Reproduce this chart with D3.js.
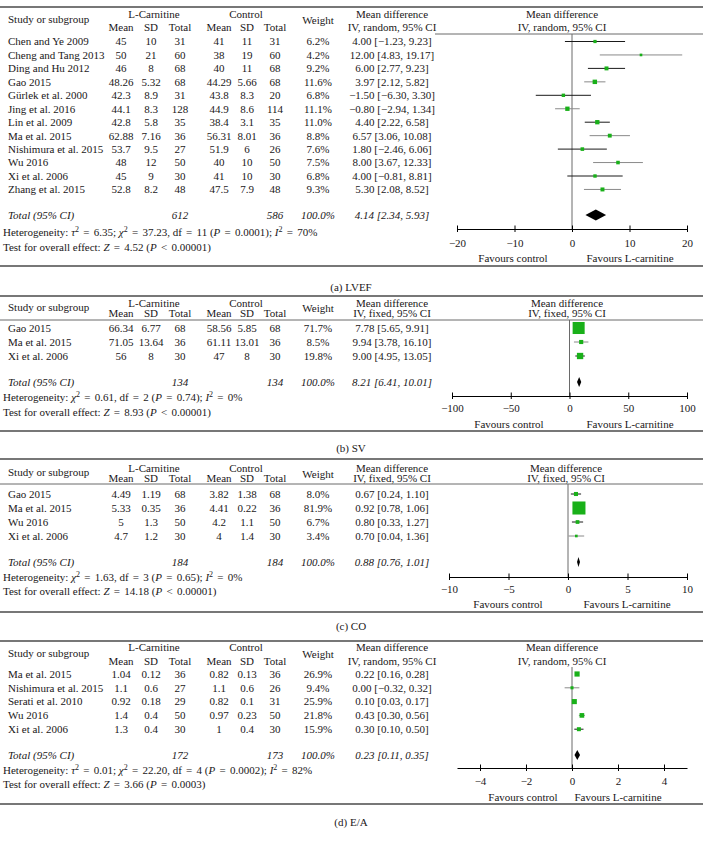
<!DOCTYPE html>
<html><head><meta charset="utf-8">
<script src="https://cdn.jsdelivr.net/npm/d3@7"></script>
<style>
body{margin:0;background:#fff}
svg{display:block}
text{font-family:"Liberation Serif","Times New Roman",serif;font-size:11px;fill:#1a1718;white-space:pre}
</style>
</head><body>
<svg id="c" width="703" height="842"></svg>
<script>
// ---- DATA ----
// row: [study, L-carnitine mean, SD, total, control mean, SD, total, weight %, MD, lower, upper]
const lvefRows = [
  ["Chen and Ye 2009", 45, 10, 31, 41, 11, 31, 6.2, 4.00, -1.23, 9.23],
  ["Cheng and Tang 2013", 50, 21, 60, 38, 19, 60, 4.2, 12.00, 4.83, 19.17],
  ["Ding and Hu 2012", 46, 8, 68, 40, 11, 68, 9.2, 6.00, 2.77, 9.23],
  ["Gao 2015", 48.26, 5.32, 68, 44.29, 5.66, 68, 11.6, 3.97, 2.12, 5.82],
  ["Gürlek et al. 2000", 42.3, 8.9, 31, 43.8, 8.3, 20, 6.8, -1.50, -6.30, 3.30],
  ["Jing et al. 2016", 44.1, 8.3, 128, 44.9, 8.6, 114, 11.1, -0.80, -2.94, 1.34],
  ["Lin et al. 2009", 42.8, 5.8, 35, 38.4, 3.1, 35, 11.0, 4.40, 2.22, 6.58],
  ["Ma et al. 2015", 62.88, 7.16, 36, 56.31, 8.01, 36, 8.8, 6.57, 3.06, 10.08],
  ["Nishimura et al. 2015", 53.7, 9.5, 27, 51.9, 6, 26, 7.6, 1.80, -2.46, 6.06],
  ["Wu 2016", 48, 12, 50, 40, 10, 50, 7.5, 8.00, 3.67, 12.33],
  ["Xi et al. 2006", 45, 9, 30, 41, 10, 30, 6.8, 4.00, -0.81, 8.81],
  ["Zhang et al. 2015", 52.8, 8.2, 48, 47.5, 7.9, 48, 9.3, 5.30, 2.08, 8.52]
];
const svRows = [
  ["Gao 2015", 66.34, 6.77, 68, 58.56, 5.85, 68, 71.7, 7.78, 5.65, 9.91],
  ["Ma et al. 2015", 71.05, 13.64, 36, 61.11, 13.01, 36, 8.5, 9.94, 3.78, 16.10],
  ["Xi et al. 2006", 56, 8, 30, 47, 8, 30, 19.8, 9.00, 4.95, 13.05]
];
const coRows = [
  ["Gao 2015", 4.49, 1.19, 68, 3.82, 1.38, 68, 8.0, 0.67, 0.24, 1.10],
  ["Ma et al. 2015", 5.33, 0.35, 36, 4.41, 0.22, 36, 81.9, 0.92, 0.78, 1.06],
  ["Wu 2016", 5, 1.3, 50, 4.2, 1.1, 50, 6.7, 0.80, 0.33, 1.27],
  ["Xi et al. 2006", 4.7, 1.2, 30, 4, 1.4, 30, 3.4, 0.70, 0.04, 1.36]
];
const eaRows = [
  ["Ma et al. 2015", 1.04, 0.12, 36, 0.82, 0.13, 36, 26.9, 0.22, 0.16, 0.28],
  ["Nishimura et al. 2015", 1.1, 0.6, 27, 1.1, 0.6, 26, 9.4, 0.00, -0.32, 0.32],
  ["Serati et al. 2010", 0.92, 0.18, 29, 0.82, 0.1, 31, 25.9, 0.10, 0.03, 0.17],
  ["Wu 2016", 1.4, 0.4, 50, 0.97, 0.23, 50, 21.8, 0.43, 0.30, 0.56],
  ["Xi et al. 2006", 1.3, 0.4, 30, 1, 0.4, 30, 15.9, 0.30, 0.10, 0.50]
];
// totals: [L-carnitine N, control N, weight, MD, lower, upper]
const lvefTotal = [612, 586, 100.0, 4.14, 2.34, 5.93];
const svTotal = [134, 134, 100.0, 8.21, 6.41, 10.01];
const coTotal = [184, 184, 100.0, 0.88, 0.76, 1.01];
const eaTotal = [172, 173, 100.0, 0.23, 0.11, 0.35];

const lvefDomain = [-20, 20], lvefTicks = [-20, -10, 0, 10, 20];
const svDomain = [-100, 100], svTicks = [-100, -50, 0, 50, 100];
const coDomain = [-10, 10], coTicks = [-10, -5, 0, 5, 10];
const eaDomain = [-5, 5], eaTicks = [-4, -2, 0, 2, 4];

const methods = ["IV, random, 95% CI", "IV, fixed, 95% CI", "IV, fixed, 95% CI", "IV, random, 95% CI"];
const captions = ["(a) LVEF", "(b) SV", "(c) CO", "(d) E/A"];
const hetTexts = [
  "Heterogeneity: *τ*^2 = 6.35; *χ*^2 = 37.23, df = 11 (*P* = 0.0001); *I*^2 = 70%",
  "Heterogeneity: *χ*^2 = 0.61, df = 2 (*P* = 0.74); *I*^2 = 0%",
  "Heterogeneity: *χ*^2 = 1.63, df = 3 (*P* = 0.65); *I*^2 = 0%",
  "Heterogeneity: *τ*^2 = 0.01; *χ*^2 = 22.20, df = 4 (*P* = 0.0002); *I*^2 = 82%"
];
const testTexts = [
  "Test for overall effect: *Z* = 4.52 (*P* < 0.00001)",
  "Test for overall effect: *Z* = 8.93 (*P* < 0.00001)",
  "Test for overall effect: *Z* = 14.18 (*P* < 0.00001)",
  "Test for overall effect: *Z* = 3.66 (*P* = 0.0003)"
];
const favourLabels = ["Favours control", "Favours L-carnitine"];

// ---- LAYOUT ----
const layouts = [
  {top:7, h1:14, hs:19, hw:20, h2:27.5, hline:34, hlineX:435, zeroTop:34, row0:41.5, step:13.45, tot:215, het:232, test:247, axis:229, tl:243, fav:258, bot:266, cap:287, range:[457,687], hdrX:562, favX:[513,630], sq:13, dh:5.5},
  {top:296, h1:303, hs:307, hw:308, h2:313.5, hline:320, hlineX:0, zeroTop:320, row0:328, step:14, tot:382, het:397, test:412, axis:396, tl:408, fav:424, bot:431, cap:448, range:[452,687], hdrX:567, favX:[509,630], sq:14.2, dh:5},
  {top:459, h1:468, hs:472, hw:474, h2:478.5, hline:484, hlineX:0, zeroTop:484, row0:494, step:14, tot:562, het:577, test:591, axis:577, tl:589, fav:604, bot:612, cap:626, range:[449,687], hdrX:566, favX:[508,627], sq:14.4, dh:5},
  {top:641, h1:647, hs:653, hw:654, h2:661, hline:null, hlineX:0, zeroTop:667, row0:674, step:13.8, tot:755, het:770, test:784, axis:768, tl:781, fav:797, bot:804, cap:822, range:[457,687], hdrX:562, favX:[523,618], sq:10, dh:5}
];
const panels = [
  {rows: lvefRows, total: lvefTotal, domain: lvefDomain, ticks: lvefTicks},
  {rows: svRows, total: svTotal, domain: svDomain, ticks: svTicks},
  {rows: coRows, total: coTotal, domain: coDomain, ticks: coTicks},
  {rows: eaRows, total: eaTotal, domain: eaDomain, ticks: eaTicks}
];

const colX = {name:8, lm:121, lsd:151, ln:180, cm:219, csd:247, cn:275, w:318, md:392, lcHdr:154, ctHdr:246};
const svg = d3.select("#c");
const green = "#19b019";

const fmt2 = v => (v < 0 ? "−" : "") + Math.abs(v).toFixed(2);
const ciText = (m, lo, hi) => `${fmt2(m)} [${fmt2(lo)}, ${fmt2(hi)}]`;

function txt(g, x, y, s, anchor, italic) {
  const t = g.append("text").attr("x", x).attr("y", y).attr("dy", "0.35em")
    .attr("text-anchor", anchor || "start").text(s);
  if (italic) t.style("font-style", "italic");
  return t;
}
// rich text: *x* italic, ^2 superscript, extra math spacing around = and <
function rich(g, x, y, s) {
  const t = g.append("text").attr("x", x).attr("y", y).attr("dy", "0.35em");
  const parts = s.split(/(\*[^*]+\*|\^2| = | < )/).filter(p => p.length);
  let dyNext = 0, dxNext = 0;
  parts.forEach(p => {
    const ts = t.append("tspan");
    if (p === "^2") {
      ts.attr("dy", -4 + dyNext).style("font-size", "8px").text("2");
      dyNext = 4;
    } else {
      if (dyNext) { ts.attr("dy", dyNext); dyNext = 0; }
      if (p === " = " || p === " < ") {
        ts.attr("dx", 1.5 + dxNext).text(p);
        dxNext = 1.5;
        return;
      }
      if (dxNext) ts.attr("dx", dxNext);
      if (p[0] === "*") ts.style("font-style", "italic").text(p.slice(1, -1));
      else ts.text(p);
    }
    dxNext = 0;
  });
}
function hline(g, x1, x2, y, color, w) {
  g.append("line").attr("x1", x1).attr("x2", x2).attr("y1", y).attr("y2", y)
    .attr("stroke", color).attr("stroke-width", w);
}

panels.forEach((P, pi) => {
  const L = layouts[pi];
  const g = svg.append("g");
  const x = d3.scaleLinear().domain(P.domain).range(L.range);
  const size = d3.scaleSqrt().domain([0, 100]).range([0, L.sq]);

  // rules
  hline(g, 0, 703, L.top, "#4a4a4a", 1.3);
  if (L.hline !== null) hline(g, L.hlineX, 703, L.hline, "#6a6a6a", 1);
  hline(g, 0, 703, L.bot, "#4a4a4a", 1.3);

  // headers
  txt(g, colX.name, L.hs, "Study or subgroup");
  txt(g, colX.lcHdr, L.h1, "L-Carnitine", "middle");
  txt(g, colX.ctHdr, L.h1, "Control", "middle");
  [["Mean", colX.lm], ["SD", colX.lsd], ["Total", colX.ln], ["Mean", colX.cm], ["SD", colX.csd], ["Total", colX.cn]]
    .forEach(([s, cx]) => txt(g, cx, L.h2, s, "middle"));
  txt(g, colX.w, L.hw, "Weight", "middle");
  txt(g, colX.md, L.h1, "Mean difference", "middle");
  txt(g, colX.md, L.h2, methods[pi], "middle");
  txt(g, L.hdrX, L.h1, "Mean difference", "middle");
  txt(g, L.hdrX, L.h2, methods[pi], "middle");

  // zero line
  g.append("line").attr("x1", x(0)).attr("x2", x(0)).attr("y1", L.zeroTop).attr("y2", L.axis)
    .attr("stroke", "#6a6a6a").attr("stroke-width", 1);

  // study rows
  P.rows.forEach((r, i) => {
    const y = L.row0 + i * L.step;
    txt(g, colX.name, y, r[0]);
    txt(g, colX.lm, y, String(r[1]), "middle");
    txt(g, colX.lsd, y, String(r[2]), "middle");
    txt(g, colX.ln, y, String(r[3]), "middle");
    txt(g, colX.cm, y, String(r[4]), "middle");
    txt(g, colX.csd, y, String(r[5]), "middle");
    txt(g, colX.cn, y, String(r[6]), "middle");
    txt(g, colX.w, y, r[7].toFixed(1) + "%", "middle");
    txt(g, colX.md, y, ciText(r[8], r[9], r[10]), "middle");
    g.append("line").attr("x1", x(r[9])).attr("x2", x(r[10])).attr("y1", y).attr("y2", y)
      .attr("stroke", i % 2 === 0 ? "#1a1a1a" : "#8a8a8a").attr("stroke-width", 1);
    const s = size(r[7]);
    g.append("rect").attr("x", x(r[8]) - s / 2).attr("y", y - s / 2)
      .attr("width", s).attr("height", s).attr("fill", green);
  });

  // total row
  const T = P.total;
  txt(g, colX.name, L.tot, "Total (95% CI)", "start", true);
  txt(g, colX.ln, L.tot, String(T[0]), "middle", true);
  txt(g, colX.cn, L.tot, String(T[1]), "middle", true);
  txt(g, colX.w, L.tot, T[2].toFixed(1) + "%", "middle", true);
  txt(g, colX.md, L.tot, ciText(T[3], T[4], T[5]), "middle", true);
  g.append("path")
    .attr("d", `M${x(T[4])},${L.tot}L${x(T[3])},${L.tot - L.dh}L${x(T[5])},${L.tot}L${x(T[3])},${L.tot + L.dh}Z`)
    .attr("fill", "#000");

  rich(g, 3, L.het, hetTexts[pi]);
  rich(g, 3, L.test, testTexts[pi]);

  // axis
  const ax = d3.axisBottom(x).tickValues(P.ticks).tickSize(0).tickSizeOuter(0)
    .tickFormat(d => d < 0 ? "−" + Math.abs(d) : String(d));
  const ag = g.append("g").attr("transform", `translate(0,${L.axis})`).call(ax);
  ag.attr("font-family", null).attr("font-size", null);
  ag.select(".domain").attr("stroke", "#000").attr("stroke-width", 1);
  ag.selectAll(".tick line").attr("y1", -3.5).attr("y2", 3).attr("stroke", "#000");
  ag.selectAll(".tick text").attr("y", L.tl - L.axis).attr("dy", "0.35em");

  txt(g, L.favX[0], L.fav, favourLabels[0], "middle");
  txt(g, L.favX[1], L.fav, favourLabels[1], "middle");

  txt(g, 351, L.cap, captions[pi], "middle");
});
</script>
</body></html>
